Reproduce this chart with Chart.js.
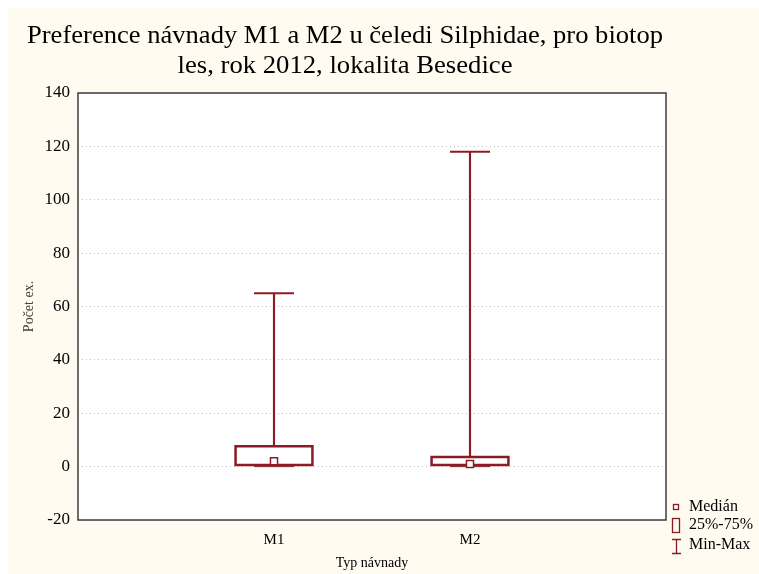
<!DOCTYPE html>
<html>
<head>
<meta charset="utf-8">
<script src="https://cdn.jsdelivr.net/npm/chart.js@4.4.0/dist/chart.umd.min.js"></script>
<style>
  html, body { margin: 0; padding: 0; background: #fff; }
  #wrap { width: 759px; height: 574px; }
</style>
</head>
<body>
<div id="wrap"><canvas id="chart" width="759" height="574"></canvas></div>
<script>
const categories = ["M1", "M2"];
const minimum = [0, 0];
const lowerQuartile = [0, 0];
const median = [2, 1];
const upperQuartile = [8, 4];
const maximum = [65, 118];
const yTicks = [-20, 0, 20, 40, 60, 80, 100, 120, 140];

const titleLines = [
    "Preference návnady M1 a M2 u čeledi Silphidae, pro biotop",
    "les, rok 2012, lokalita Besedice",
];
const legendItems = ["Medián", "25%-75%", "Min-Max"];

const boxRed = "#8c1c24";
const cream = "#fffbf0";
const serif = "'Liberation Serif', 'Times New Roman', serif";

// an empty slot on each side puts M1 and M2 at 1/3 and 2/3 of the width
const slots = ["", ...categories, ""];
const pad = (arr) => [null, ...arr, null];

const paintBackground = {
    id: "paintBackground",
    beforeDraw(chart) {
        const { ctx, width, height, chartArea: a } = chart;
        ctx.save();
        ctx.fillStyle = "#fff";
        ctx.fillRect(0, 0, width, height);
        ctx.fillStyle = cream;
        ctx.fillRect(8, 8, width - 8, height - 8);
        ctx.fillStyle = "#fff";
        ctx.fillRect(a.left, a.top, a.right - a.left, a.bottom - a.top);
        ctx.restore();
    },
};

const frameAndText = {
    id: "frameAndText",
    afterDraw(chart) {
        const { ctx, chartArea: a } = chart;
        ctx.save();

        // plot frame
        ctx.strokeStyle = "#3c3c3c";
        ctx.lineWidth = 1.5;
        ctx.strokeRect(a.left, a.top, a.right - a.left, a.bottom - a.top);

        // two line title, fitted to a fixed width
        ctx.fillStyle = "#000";
        ctx.font = "25px " + serif;
        ctx.textBaseline = "alphabetic";
        const widths = [636, 335];
        const centerX = 345;
        const baselines = [43, 73];
        titleLines.forEach((line, i) => {
            const w = ctx.measureText(line).width;
            ctx.save();
            ctx.translate(centerX - widths[i] / 2, baselines[i]);
            ctx.scale(widths[i] / w, 1);
            ctx.fillText(line, 0, 0);
            ctx.restore();
        });

        // legend
        ctx.strokeStyle = boxRed;
        ctx.lineWidth = 1.3;
        ctx.strokeRect(673.5, 504.5, 5, 5);
        ctx.strokeRect(672.5, 518.5, 7, 14);
        ctx.beginPath();
        ctx.moveTo(672, 539.5);
        ctx.lineTo(681, 539.5);
        ctx.moveTo(676.5, 539.5);
        ctx.lineTo(676.5, 553.5);
        ctx.moveTo(672, 553.5);
        ctx.lineTo(681, 553.5);
        ctx.stroke();

        ctx.fillStyle = "#000";
        ctx.font = "16px " + serif;
        ctx.textBaseline = "middle";
        const rows = [507, 525, 545];
        legendItems.forEach((t, i) => ctx.fillText(t, 689, rows[i]));

        ctx.restore();
    },
};

const config = {
    type: "bar",
    data: {
        labels: slots,
        datasets: [
            {
                // median marker
                type: "line",
                data: pad(median),
                showLine: false,
                pointStyle: "rect",
                pointRadius: 5,
                pointBackgroundColor: "#fff",
                pointBorderColor: boxRed,
                pointBorderWidth: 1.5,
            },
            {
                // upper whisker cap
                type: "line",
                data: pad(maximum),
                showLine: false,
                pointStyle: "line",
                pointRadius: 20,
                pointBorderColor: boxRed,
                pointBorderWidth: 2,
            },
            {
                // lower whisker cap
                type: "line",
                data: pad(minimum),
                showLine: false,
                pointStyle: "line",
                pointRadius: 20,
                pointBorderColor: boxRed,
                pointBorderWidth: 1,
            },
            {
                // 25%-75% box
                data: pad(lowerQuartile.map((q, i) => [q, upperQuartile[i]])),
                grouped: false,
                barThickness: 79,
                backgroundColor: "rgba(0,0,0,0)",
                borderColor: boxRed,
                borderWidth: 2,
                borderSkipped: false,
            },
            {
                // whisker from the box up to the maximum
                data: pad(upperQuartile.map((q, i) => [q, maximum[i]])),
                grouped: false,
                barThickness: 1.5,
                backgroundColor: boxRed,
                borderWidth: 0,
            },
            {
                // whisker from the minimum up to the box
                data: pad(minimum.map((m, i) => [m, lowerQuartile[i]])),
                grouped: false,
                barThickness: 1.5,
                backgroundColor: boxRed,
                borderWidth: 0,
            },
        ],
    },
    options: {
        responsive: false,
        animation: false,
        layout: { padding: { top: 93, right: 93, left: 0, bottom: 0 } },
        plugins: {
            legend: { display: false },
            title: { display: false },
            tooltip: { enabled: false },
        },
        scales: {
            x: {
                offset: false,
                grid: { display: false, drawTicks: false },
                border: { display: false },
                ticks: {
                    color: "#000",
                    font: { family: serif, size: 15 },
                    padding: 11,
                    maxRotation: 0,
                    autoSkip: false,
                },
                title: {
                    display: true,
                    text: "Typ návnady",
                    color: "#000",
                    font: { family: serif, size: 14 },
                    padding: { top: 0, bottom: 2 },
                },
                afterFit(scale) {
                    scale.height = 54;
                },
            },
            y: {
                min: -20,
                max: 140,
                afterBuildTicks(scale) {
                    scale.ticks = yTicks.map((v) => ({ value: v }));
                },
                grid: {
                    color: "#c4c4c4",
                    lineWidth: 1,
                    drawTicks: false,
                },
                border: { display: false, dash: [1, 3] },
                ticks: {
                    color: "#000",
                    font: { family: serif, size: 17 },
                    padding: 8,
                },
                title: {
                    display: true,
                    text: "Počet ex.",
                    color: "#4a4038",
                    font: { family: serif, size: 14 },
                    padding: { top: 21, bottom: 0 },
                },
                afterFit(scale) {
                    scale.width = 78;
                },
            },
        },
    },
    plugins: [paintBackground, frameAndText],
};

new Chart(document.getElementById("chart"), config);
</script>
</body>
</html>
